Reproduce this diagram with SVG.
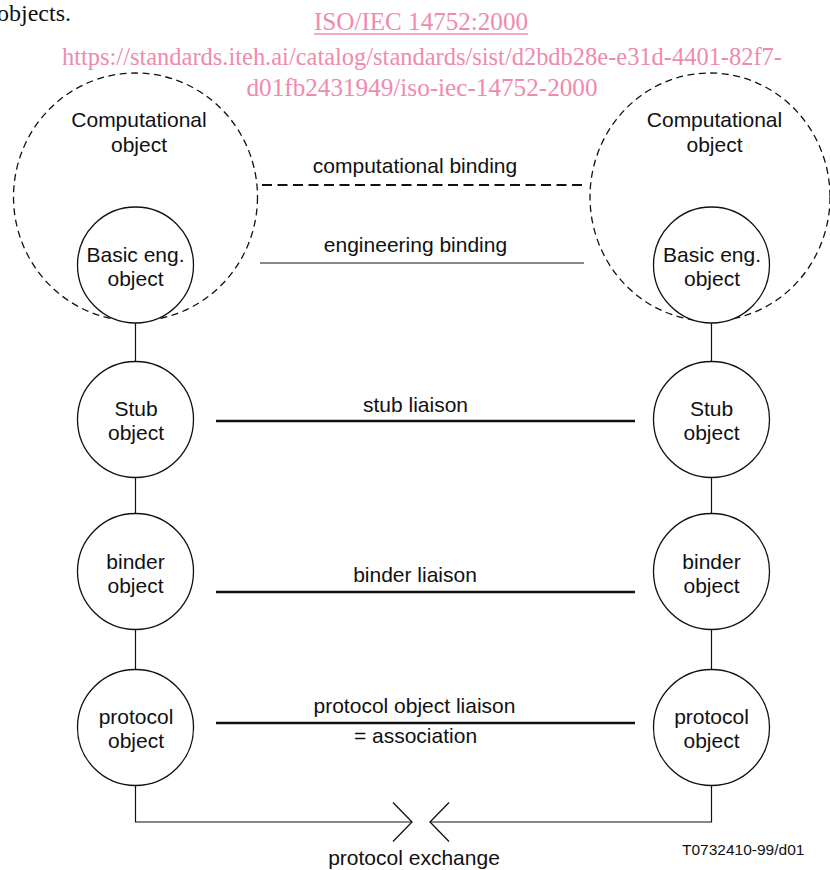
<svg xmlns="http://www.w3.org/2000/svg" width="830" height="870" viewBox="0 0 830 870">
<style>
.t{font-family:"Liberation Sans",Arial,sans-serif;font-size:21px;fill:#111;text-anchor:middle}
.pk{font-family:"Liberation Serif","Times New Roman",serif;fill:#ef8aaf;text-anchor:middle}
.obj{fill:#fff;stroke:#111;stroke-width:1.3}
.big{fill:none;stroke:#111;stroke-width:1.3;stroke-dasharray:7 4.5}
.ln{stroke:#111;fill:none}
</style>
<rect width="830" height="870" fill="#fff"/>
<text x="-3" y="21" style="font-family:'Liberation Serif','Times New Roman',serif;font-size:24px;fill:#111">objects.</text>
<g id="header">
<text class="pk" x="421" y="30" font-size="25" textLength="214" lengthAdjust="spacingAndGlyphs">ISO/IEC 14752:2000</text>
<line x1="314" y1="34" x2="528" y2="34" stroke="#ef8aaf" stroke-width="1.3"/>
<text class="pk" x="422" y="65" font-size="25" textLength="720" lengthAdjust="spacingAndGlyphs">https://standards.iteh.ai/catalog/standards/sist/d2bdb28e-e31d-4401-82f7-</text>
<text class="pk" x="422" y="96" font-size="25" textLength="351" lengthAdjust="spacingAndGlyphs">d01fb2431949/iso-iec-14752-2000</text>
</g>
<g id="connectors">
<path class="ln" d="M135.5 323V822H412M430 822H711.5V323" stroke-width="1.2"/>
<path class="ln" d="M393 802.5L412 822L393 841.5M449 802.5L430 822L449 841.5" stroke-width="1.3"/>
<line class="ln" x1="262" y1="185" x2="583" y2="185" stroke-width="2.2" stroke-dasharray="10 5.5"/>
<line class="ln" x1="260" y1="263" x2="584" y2="263" stroke-width="1"/>
<line class="ln" x1="216" y1="421" x2="635" y2="421" stroke-width="2.6"/>
<line class="ln" x1="216" y1="592" x2="635" y2="592" stroke-width="2.6"/>
<line class="ln" x1="216" y1="723" x2="635" y2="723" stroke-width="2.6"/>
<text class="t" x="415" y="173">computational binding</text>
<text class="t" x="415.5" y="252">engineering binding</text>
<text class="t" x="415.5" y="412">stub liaison</text>
<text class="t" x="415" y="582">binder liaison</text>
<text class="t" x="414.5" y="713">protocol object liaison</text>
<text class="t" x="415.5" y="743">= association</text>
<text class="t" x="414" y="865">protocol exchange</text>
</g>
<g id="comp-left">
<ellipse class="big" cx="135.5" cy="197" rx="122" ry="124"/>
<text class="t" x="139" y="127">Computational</text>
<text class="t" x="139" y="152">object</text>
</g>
<g id="comp-right">
<ellipse class="big" cx="710" cy="197" rx="120" ry="124"/>
<text class="t" x="714.5" y="127">Computational</text>
<text class="t" x="714.5" y="152">object</text>
</g>
<g id="basic-left">
<circle class="obj" cx="135.5" cy="265" r="58"/>
<text class="t" x="135.5" y="262">Basic eng.</text>
<text class="t" x="135.5" y="286">object</text>
</g>
<g id="basic-right">
<circle class="obj" cx="711.5" cy="265" r="58"/>
<text class="t" x="712" y="262">Basic eng.</text>
<text class="t" x="712" y="286">object</text>
</g>
<g id="stub-left">
<circle class="obj" cx="135.5" cy="419.5" r="58"/>
<text class="t" x="136" y="416">Stub</text>
<text class="t" x="136" y="440">object</text>
</g>
<g id="stub-right">
<circle class="obj" cx="711.5" cy="419.5" r="58"/>
<text class="t" x="711.5" y="416">Stub</text>
<text class="t" x="711.5" y="440">object</text>
</g>
<g id="binder-left">
<circle class="obj" cx="135.5" cy="571.5" r="58"/>
<text class="t" x="135.5" y="569">binder</text>
<text class="t" x="135.5" y="593">object</text>
</g>
<g id="binder-right">
<circle class="obj" cx="711.5" cy="571.5" r="58"/>
<text class="t" x="711.5" y="569">binder</text>
<text class="t" x="711.5" y="593">object</text>
</g>
<g id="protocol-left">
<circle class="obj" cx="135.5" cy="727.5" r="58"/>
<text class="t" x="136" y="724">protocol</text>
<text class="t" x="136" y="748">object</text>
</g>
<g id="protocol-right">
<circle class="obj" cx="711.5" cy="727.5" r="58"/>
<text class="t" x="711.5" y="724">protocol</text>
<text class="t" x="711.5" y="748">object</text>
</g>
<text x="682" y="855" style="font-family:'Liberation Sans',Arial,sans-serif;font-size:15.5px;fill:#111">T0732410-99/d01</text>
</svg>
